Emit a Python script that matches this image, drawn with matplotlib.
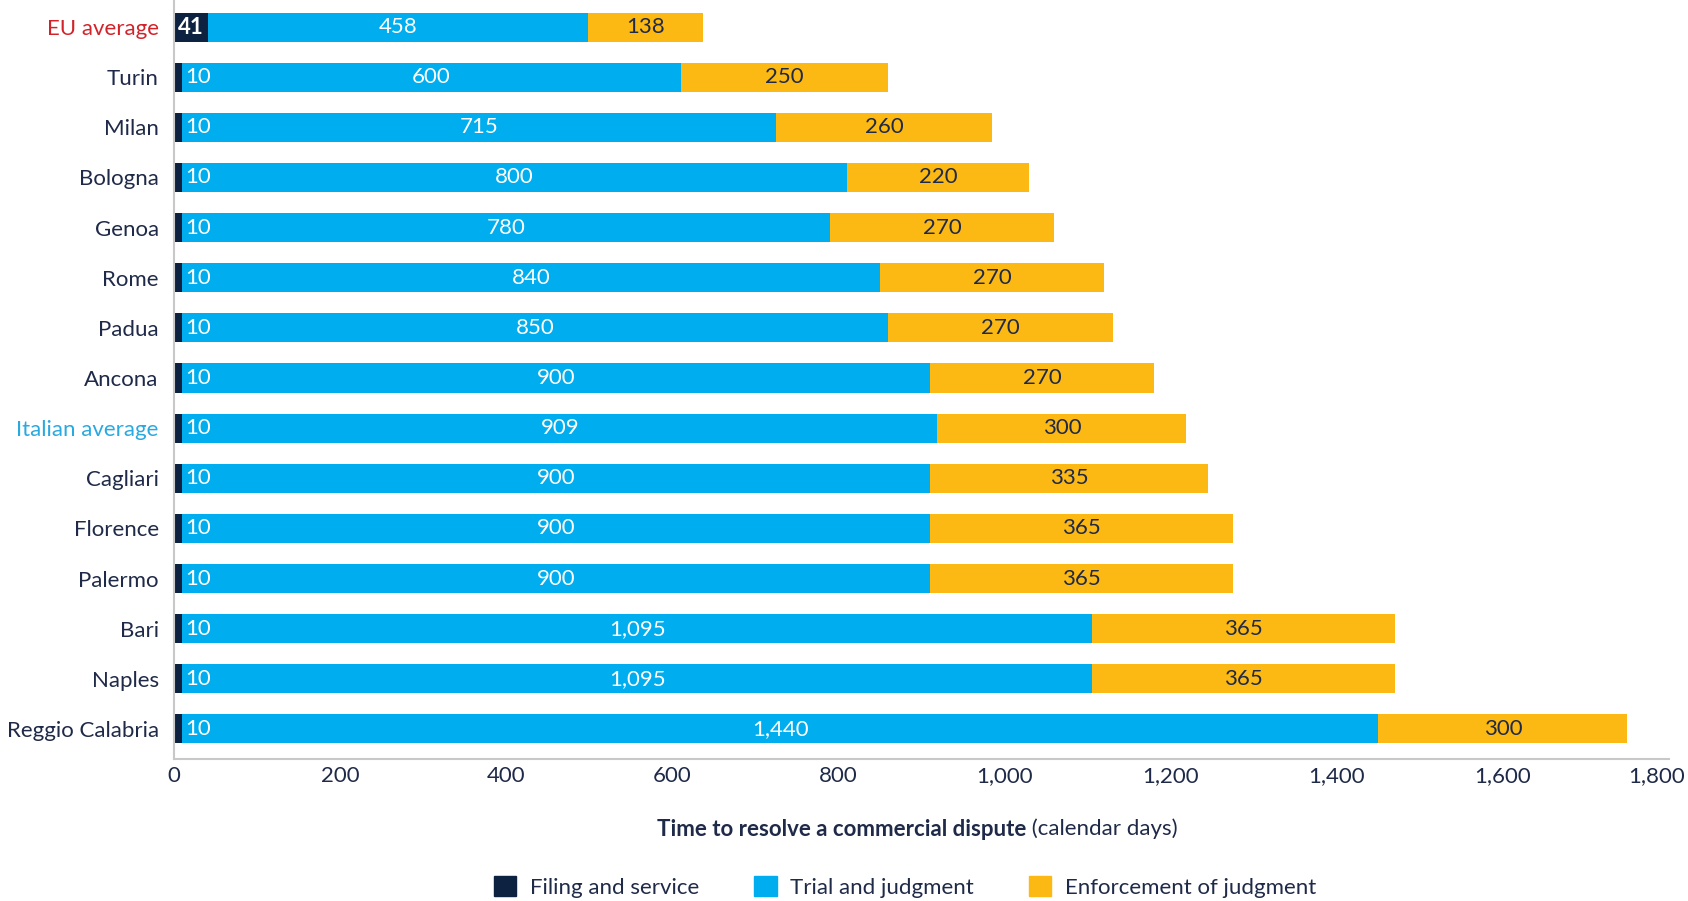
import matplotlib
matplotlib.use("Agg")
import matplotlib.pyplot as plt
from matplotlib.patches import Patch
import matplotlib.transforms as mtransforms

plt.rcParams['font.family'] = ['Lato', 'DejaVu Sans']

cities = ["EU average", "Turin", "Milan", "Bologna", "Genoa", "Rome", "Padua", "Ancona",
          "Italian average", "Cagliari", "Florence", "Palermo", "Bari", "Naples", "Reggio Calabria"]
filing = [41, 10, 10, 10, 10, 10, 10, 10, 10, 10, 10, 10, 10, 10, 10]
trial = [458, 600, 715, 800, 780, 840, 850, 900, 909, 900, 900, 900, 1095, 1095, 1440]
enforcement = [138, 250, 260, 220, 270, 270, 270, 270, 300, 335, 365, 365, 365, 365, 300]
series_names = ["Filing and service", "Trial and judgment", "Enforcement of judgment"]
xticks = [0, 200, 400, 600, 800, 1000, 1200, 1400, 1600, 1800]

NAVY = "#0d2240"
BLUE = "#00aeef"
YELLOW = "#fdb913"
TEXT = "#1f2a48"
RED = "#d2232a"
LBLUE = "#29a9e0"

fig = plt.figure(figsize=(16.88, 9.01), dpi=100)
ax = fig.add_axes([174/1688, 1-759/901, (1669-174)/1688, 759/901])

y = list(range(len(cities)))
h = 0.58
left2 = [f for f in filing]
left3 = [f + t for f, t in zip(filing, trial)]
ax.barh(y, filing, height=h, color=NAVY)
ax.barh(y, trial, left=left2, height=h, color=BLUE)
ax.barh(y, enforcement, left=left3, height=h, color=YELLOW)

fs = 16
for i in y:
    if filing[i] > 20:
        ax.text(filing[i]/2, i, str(filing[i]), ha='center', va='center', color='white', fontsize=fs, fontweight='bold')
    else:
        ax.text(filing[i] + 3, i, str(filing[i]), ha='left', va='center', color='white', fontsize=fs)
    ax.text(left2[i] + trial[i]/2, i, f"{trial[i]:,}", ha='center', va='center', color='white', fontsize=fs)
    ax.text(left3[i] + enforcement[i]/2, i, f"{enforcement[i]:,}", ha='center', va='center', color=TEXT, fontsize=fs)

ax.set_xlim(0, 1800)
ax.set_ylim(14.6, -0.54)
ax.set_yticks(y)
ax.set_yticklabels(cities, fontsize=fs)
for lbl in ax.get_yticklabels():
    t = lbl.get_text()
    lbl.set_color(RED if t == "EU average" else (LBLUE if t == "Italian average" else TEXT))
ax.set_xticks(xticks)
ax.set_xticklabels([f"{v:,}" for v in xticks], fontsize=fs, color=TEXT)
ax.tick_params(axis='y', length=0, pad=11)
ax.tick_params(axis='x', length=0, pad=5)
last = ax.get_xticklabels()[-1]
last.set_transform(last.get_transform() + mtransforms.ScaledTranslation(-12/100, 0, fig.dpi_scale_trans))

for s in ['top', 'right']:
    ax.spines[s].set_visible(False)
ax.spines['left'].set_color('#c8c8c8')
ax.spines['bottom'].set_color('#c8c8c8')
ax.spines['left'].set_linewidth(1.5)
ax.spines['bottom'].set_linewidth(1.5)

fig.text(1026/1688, 1-829/901, "Time to resolve a commercial dispute", ha='right', va='center',
         fontsize=fs, fontweight='bold', color=TEXT)
fig.text(1026/1688, 1-829/901, " (calendar days)", ha='left', va='center', fontsize=fs, color=TEXT)

handles = [Patch(color=c) for c in (NAVY, BLUE, YELLOW)]
fig.legend(handles, series_names, loc='center', bbox_to_anchor=(905/1688, 1-887/901), ncol=3,
           frameon=False, fontsize=fs, handlelength=1.0, handleheight=1.0, columnspacing=2.5,
           handletextpad=0.6, labelcolor=TEXT)

fig.savefig("out.png", dpi=100)
